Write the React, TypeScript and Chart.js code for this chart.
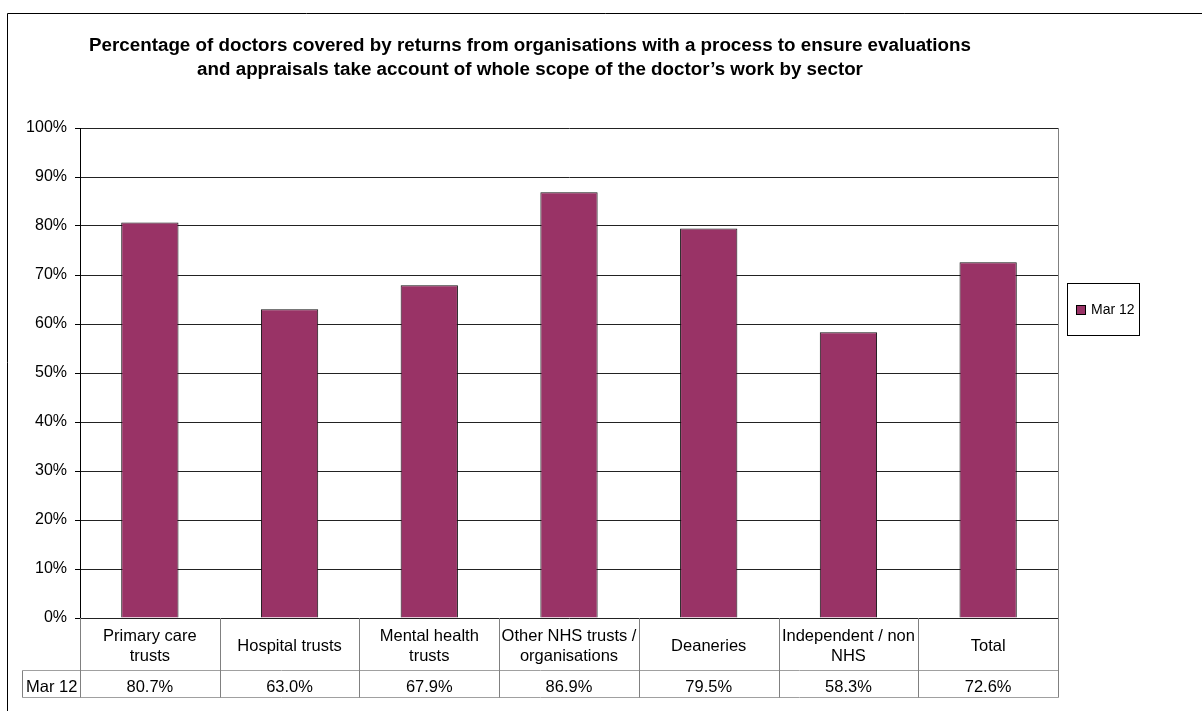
import React, { useEffect, useRef } from "react";
import { Chart, registerables } from "chart.js";

Chart.register(...registerables);

const titleLines = [
  "Percentage of doctors covered by returns from organisations with a process to ensure evaluations",
  "and appraisals take account of whole scope of the doctor\u2019s work by sector",
];
const categories = [
  "Primary care trusts",
  "Hospital trusts",
  "Mental health trusts",
  "Other NHS trusts / organisations",
  "Deaneries",
  "Independent / non NHS",
  "Total",
];
const headerLines = [
  ["Primary care", "trusts"],
  ["Hospital trusts"],
  ["Mental health", "trusts"],
  ["Other NHS trusts /", "organisations"],
  ["Deaneries"],
  ["Independent / non", "NHS"],
  ["Total"],
];
const seriesName = "Mar 12";
const values = [80.7, 63.0, 67.9, 86.9, 79.5, 58.3, 72.6];
const yMin = 0;
const yMax = 100;
const yStep = 10;

const FONT = '"Liberation Sans", Arial, sans-serif';
const BAR = "#993366";

const tablePlugin = {
  id: "tablePlugin",
  afterDraw(chart: any) {
    const ctx = chart.ctx as CanvasRenderingContext2D;
    const { left, right, top, bottom } = chart.chartArea;
    const n = categories.length;
    const w = (right - left) / n;
    ctx.save();

    // outer frame
    ctx.strokeStyle = "#000";
    ctx.lineWidth = 1;
    ctx.beginPath();
    ctx.moveTo(7.5, 720);
    ctx.lineTo(7.5, 13.5);
    ctx.lineTo(1210, 13.5);
    ctx.stroke();

    // title
    ctx.fillStyle = "#000";
    ctx.font = `bold 18.8px ${FONT}`;
    ctx.textAlign = "center";
    ctx.textBaseline = "alphabetic";
    ctx.fillText(titleLines[0], 530, 51);
    ctx.fillText(titleLines[1], 530, 75);

    // plot-area right border
    ctx.strokeStyle = "#808080";
    ctx.beginPath();
    ctx.moveTo(Math.round(right) + 0.5, top);
    ctx.lineTo(Math.round(right) + 0.5, bottom);
    ctx.stroke();

    // data table
    const rowDiv = 670.5;
    const tBottom = 697.5;
    const labelLeft = 22.5;
    ctx.strokeStyle = "#a0a0a0";
    ctx.beginPath();
    ctx.moveTo(labelLeft, rowDiv);
    ctx.lineTo(Math.round(right) + 0.5, rowDiv);
    ctx.moveTo(labelLeft, tBottom);
    ctx.lineTo(Math.round(right) + 0.5, tBottom);
    ctx.stroke();
    ctx.strokeStyle = "#808080";
    ctx.beginPath();
    ctx.moveTo(labelLeft, rowDiv);
    ctx.lineTo(labelLeft, tBottom);
    for (let i = 0; i <= n; i++) {
      const x = Math.round(left + i * w) + 0.5;
      ctx.moveTo(x, bottom);
      ctx.lineTo(x, tBottom);
    }
    ctx.stroke();

    ctx.font = `16.5px ${FONT}`;
    ctx.textAlign = "center";
    ctx.textBaseline = "middle";
    ctx.fillStyle = "#000";
    const xs = chart.scales.x;
    for (let i = 0; i < n; i++) {
      const cx = xs.getPixelForValue(i);
      const lines = headerLines[i];
      const mid = 646;
      const lh = 20;
      lines.forEach((ln, j) => {
        ctx.fillText(ln, cx, mid + (j - (lines.length - 1) / 2) * lh);
      });
      ctx.fillText(values[i].toFixed(1) + "%", cx, 687);
    }
    ctx.textAlign = "left";
    ctx.fillText(seriesName, 26, 687);

    // legend
    ctx.strokeStyle = "#000";
    ctx.strokeRect(1067.5, 283.5, 72, 52);
    ctx.fillStyle = BAR;
    ctx.fillRect(1076, 305, 10, 10);
    ctx.strokeRect(1076.5, 305.5, 9, 9);
    ctx.fillStyle = "#000";
    ctx.font = `14px ${FONT}`;
    ctx.textAlign = "left";
    ctx.textBaseline = "middle";
    ctx.fillText(seriesName, 1091, 310);

    ctx.restore();
  },
};

export default function App() {
  const ref = useRef<HTMLCanvasElement | null>(null);
  useEffect(() => {
    if (!ref.current) return;
    const chart = new Chart(ref.current, {
      type: "bar",
      data: {
        labels: categories,
        datasets: [
          {
            label: seriesName,
            data: values,
            backgroundColor: BAR,
            borderColor: "#111",
            borderWidth: 1,
            categoryPercentage: 1,
            barPercentage: 0.41,
          },
        ],
      },
      options: {
        responsive: false,
        animation: false,
        devicePixelRatio: 1,
        layout: { padding: { top: 128, left: 0, right: 144, bottom: 93 } },
        plugins: {
          legend: { display: false },
          title: { display: false },
          tooltip: { enabled: false },
        },
        scales: {
          x: { display: false },
          y: {
            min: yMin,
            max: yMax,
            afterFit: (s: any) => {
              s.width = 80;
            },
            ticks: {
              stepSize: yStep,
              padding: 8,
              color: "#000",
              font: { family: FONT, size: 16 },
              callback: (v: any) => v + "%",
            },
            grid: { color: "#222", tickColor: "#000", tickLength: 5 },
            border: { display: true, color: "#000" },
          },
        },
      },
      plugins: [tablePlugin],
    });
    return () => chart.destroy();
  }, []);
  return (
    <div style={{ position: "absolute", left: 0, top: 0, width: 1202, height: 711, background: "#fff" }}>
      <canvas ref={ref} width={1202} height={711} style={{ display: "block" }} />
    </div>
  );
}
